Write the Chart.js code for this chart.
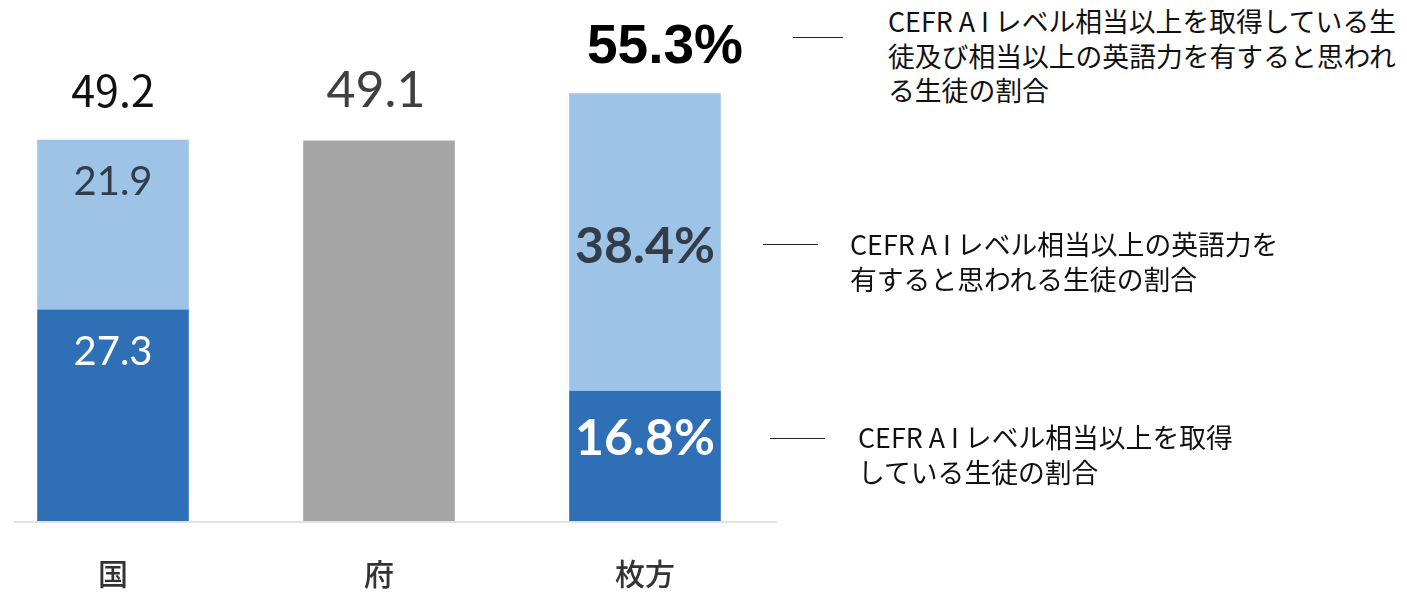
<!DOCTYPE html>
<html lang="ja">
<head>
<meta charset="utf-8">
<title>CEFR A1 chart</title>
<script src="https://cdn.jsdelivr.net/npm/chart.js@4.4.1/dist/chart.umd.min.js"></script>
<style>
    html, body { margin: 0; padding: 0; background: #fff; overflow: hidden; }
    #wrap { position: relative; width: 1407px; height: 593px; overflow: hidden; }
    #myChart { position: absolute; left: -20px; top: 0; }
    .note {
        position: absolute;
        font-family: "Noto Sans CJK JP", sans-serif;
        font-size: 26.8px;
        line-height: 34.5px;
        color: #111;
        white-space: nowrap;
    }
    .lead { position: absolute; height: 1px; background: #222; }
</style>
</head>
<body>
<div id="wrap">
    <canvas id="myChart" width="798" height="627"></canvas>

    <div class="lead" style="left:793px; top:37px; width:50px;"></div>
    <div class="note" style="left:888px; top:4px;">CEFR A I レベル相当以上を取得している生<br>徒及び相当以上の英語力を有すると思われ<br>る生徒の割合</div>

    <div class="lead" style="left:763px; top:244px; width:55px;"></div>
    <div class="note" style="left:850px; top:227px;">CEFR A I レベル相当以上の英語力を<br>有すると思われる生徒の割合</div>

    <div class="lead" style="left:770px; top:438px; width:55px;"></div>
    <div class="note" style="left:858px; top:420px;">CEFR A I レベル相当以上を取得<br>している生徒の割合</div>
</div>

<script>
// data
const categories = ['国', '府', '枚方'];
const acquired = [27.3, null, 16.8];      // 取得している生徒
const equivalent = [21.9, null, 38.4];    // 相当の英語力を有すると思われる生徒
const prefecture = [null, 49.1, null];    // 府 (内訳なし)
const totals = [49.2, 49.1, 55.3];        // 表示されている合計値
const valueSuffix = ['', '', '%'];

// how the totals above the bars look
const totalStyles = [
    { font: '400 43px "Noto Sans CJK JP"', color: '#111', dx: 0, dy: -49 },
    { font: '400 50px Lato', color: '#404040', dx: -3, dy: -50 },
    { font: 'bold 55px "Liberation Sans"', color: '#000', dx: 20, dy: -45 }
];
const segmentFonts = ['400 40px Lato', null, 'bold 50px Lato'];

const valueLabels = {
    id: 'valueLabels',
    afterDatasetsDraw(chart) {
        const ctx = chart.ctx;
        const yScale = chart.scales.y;
        ctx.save();
        ctx.textAlign = 'center';
        ctx.textBaseline = 'middle';

        // segment labels
        chart.data.datasets.forEach((ds, di) => {
            if (!ds.labelOffsets) return;
            const meta = chart.getDatasetMeta(di);
            meta.data.forEach((bar, i) => {
                const v = ds.data[i];
                if (v == null || ds.labelOffsets[i] == null) return;
                ctx.font = segmentFonts[i];
                ctx.fillStyle = ds.labelColor;
                ctx.fillText(v.toFixed(1) + valueSuffix[i], bar.x, bar.y + ds.labelOffsets[i]);
            });
        });

        // totals
        const meta0 = chart.getDatasetMeta(0);
        totals.forEach((t, i) => {
            const st = totalStyles[i];
            const x = meta0.data[i].x;
            const y = yScale.getPixelForValue(t);
            ctx.font = st.font;
            ctx.fillStyle = st.color;
            ctx.fillText(t.toFixed(1) + valueSuffix[i], x + st.dx, y + st.dy);
        });

        // baseline
        const y0 = yScale.getPixelForValue(0);
        ctx.strokeStyle = '#d9d9d9';
        ctx.lineWidth = 1.5;
        ctx.beginPath();
        ctx.moveTo(chart.chartArea.left + 34, y0 + 1);
        ctx.lineTo(chart.chartArea.right - 1, y0 + 1);
        ctx.stroke();
        ctx.restore();
    }
};

const ctx = document.getElementById('myChart').getContext('2d');
const myChart = new Chart(ctx, {
    type: 'bar',
    data: {
        labels: categories,
        datasets: [
            {
                label: 'CEFR A1レベル相当以上を取得している生徒の割合',
                data: acquired,
                backgroundColor: '#2e6fb5',
                labelColor: '#ffffff',
                labelOffsets: [43, null, 48]
            },
            {
                label: 'CEFR A1レベル相当以上の英語力を有すると思われる生徒の割合',
                data: equivalent,
                backgroundColor: '#9dc3e6',
                labelColor: '#333c48',
                labelOffsets: [42, null, 154]
            },
            {
                label: '府',
                data: prefecture,
                backgroundColor: '#a5a5a5'
            }
        ]
    },
    options: {
        responsive: false,
        animation: false,
        layout: { padding: { top: 56, left: 0, right: 0, bottom: 0 } },
        datasets: {
            bar: { categoryPercentage: 1.0, barPercentage: 0.57, borderWidth: 0 }
        },
        scales: {
            x: {
                stacked: true,
                grid: { display: false, drawTicks: false },
                border: { display: false },
                ticks: {
                    padding: 35,
                    color: '#333',
                    font: { family: '"Noto Sans CJK JP"', size: 30, weight: '500' }
                }
            },
            y: {
                stacked: true,
                display: false,
                min: 0,
                max: 60
            }
        },
        plugins: {
            legend: { display: false },
            tooltip: { enabled: false },
            title: { display: false }
        }
    },
    plugins: [valueLabels]
});
</script>
</body>
</html>
